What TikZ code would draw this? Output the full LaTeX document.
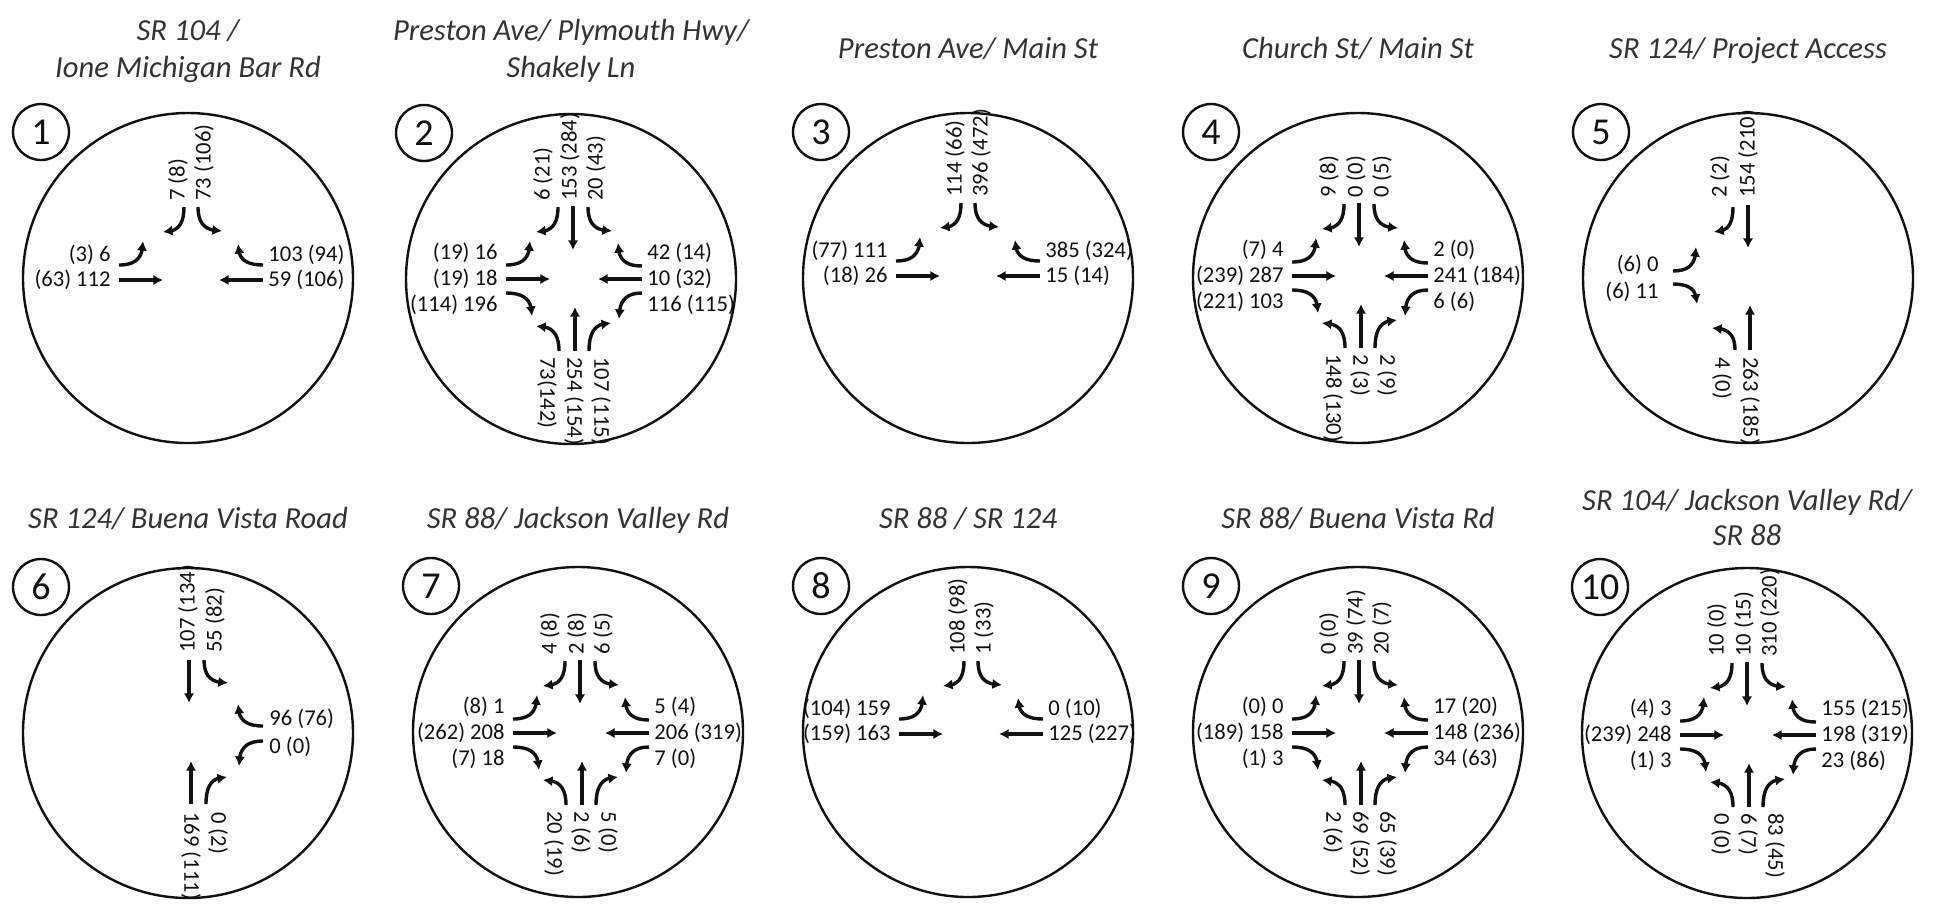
\documentclass[tikz,border=0pt]{standalone}
\usepackage{fontspec}
\setmainfont{Carlito}
\usetikzlibrary{arrows.meta,bending}
\definecolor{ink}{HTML}{111111}
\definecolor{ttlgray}{HTML}{333333}
\tikzset{
  mv/.style={draw=ink,line width=1.7pt,-{Latex[length=4.8pt,width=5.2pt]}},
  lab/.style={inner sep=0pt,text=ink,font=\fontsize{11.3}{13}\selectfont},
  ttl/.style={inner sep=0pt,text=ttlgray,font=\fontsize{15.3}{18}\selectfont\itshape,anchor=base},
  ringline/.style={draw=ink,line width=1.2pt},
  numtxt/.style={inner sep=0pt,text=ink,font=\fontsize{19}{22}\selectfont},
}
\newcommand\vturn[4]{\draw[mv] (#1,#2) .. controls ({#1},{#2+0.8*(#4-(#2))}) and ({#1+0.4*(#3-(#1))},{#4}) .. (#3,#4);}
\newcommand\hturn[4]{\draw[mv] (#1,#2) .. controls ({#1+0.8*(#3-(#1))},{#2}) and ({#3},{#2+0.4*(#4-(#2))}) .. (#3,#4);}
\newcommand\mvline[4]{\draw[mv] (#1,#2) -- (#3,#4);}
\newcommand\sblab[3]{\node[lab,rotate=90,anchor=west] at (#1,#2) {#3};}
\newcommand\nblab[3]{\node[lab,rotate=-90,anchor=west] at (#1,#2) {#3};}
\newcommand\eblab[3]{\node[lab,anchor=east] at (#1,#2) {#3};}
\newcommand\wblab[3]{\node[lab,anchor=west] at (#1,#2) {#3};}
\newcommand\ring[3]{%
  \draw[ringline] (#1,#2) circle[radius=82.5pt];
  \draw[ringline] ({#1-147},{#2-146}) circle[radius=14pt];
  \node[numtxt] at ({#1-147},{#2-146}) {#3};}
% four-leg template
\newcommand\fourarrows{%
  \mvline{-1}{-73}{-1}{-29}
  \mvline{1}{72}{1}{28}
  \mvline{-68}{0}{-24}{0}
  \mvline{68}{0}{24}{0}
  \vturn{-16}{-72}{-38}{-47}
  \vturn{14}{-72}{38}{-48}
  \vturn{-15}{72}{-38}{47}
  \vturn{15}{72}{37}{44}
  \hturn{-68}{-14}{-44}{-38}
  \hturn{-68}{14}{-42}{37}
  \hturn{68}{-13}{44}{-36}
  \hturn{68}{14}{45}{40}}
\newcommand\sblabs[3]{\sblab{-31}{-78}{#1}\sblab{-4}{-78}{#2}\sblab{22}{-78}{#3}}
\newcommand\nblabs[3]{\nblab{-27}{78}{#1}\nblab{0}{78}{#2}\nblab{27}{78}{#3}}
\newcommand\eblabs[3]{\eblab{-76}{-26}{#1}\eblab{-76}{0}{#2}\eblab{-76}{26}{#3}}
\newcommand\wblabs[3]{\wblab{73}{-26}{#1}\wblab{73}{0}{#2}\wblab{73}{26}{#3}}
% T template (SB turns, EB left+thru, WB left+thru)
\newcommand\tarrows{%
  \mvline{-72}{0}{-28}{0}
  \mvline{72}{0}{28}{0}
  \hturn{-72}{-15}{-48}{-39}
  \hturn{72}{-15}{47}{-36}
  \vturn{-7}{-73}{-28}{-48}
  \vturn{7}{-73}{31}{-49}}
\newcommand\tlabs[6]{%
  \sblab{-13}{-79}{#1}\sblab{13}{-79}{#2}
  \eblab{-80}{-25}{#3}\eblab{-80}{0}{#4}
  \wblab{77}{-25}{#5}\wblab{77}{0}{#6}}
\begin{document}
\begin{tikzpicture}[x=0.5pt,y=-0.5pt]
\useasboundingbox (0,0) rectangle (1933,907);
% titles
\node[ttl] (t1a) at (188,40) {SR 104 /};
\node[ttl] (t1b) at (188,77) {Ione Michigan Bar Rd};
\node[ttl] (t2a) at (571,40) {Preston Ave/ Plymouth Hwy/};
\node[ttl] (t2b) at (571,77) {Shakely Ln};
\node[ttl] (t3) at (968,58) {Preston Ave/ Main St};
\node[ttl] (t4) at (1358,58) {Church St/ Main St};
\node[ttl] (t5) at (1748,58) {SR 124/ Project Access};
\node[ttl] (t6) at (188,528) {SR 124/ Buena Vista Road};
\node[ttl] (t7) at (578,528) {SR 88/ Jackson Valley Rd};
\node[ttl] (t8) at (968,528) {SR 88 / SR 124};
\node[ttl] (t9) at (1358,528) {SR 88/ Buena Vista Rd};
\node[ttl] (t10a) at (1747,510) {SR 104/ Jackson Valley Rd/};
\node[ttl] (t10b) at (1747,545) {SR 88};
% rings
\ring{188}{278}{1}
\ring{571}{279}{2}
\ring{968}{278}{3}
\ring{1358}{278}{4}
\ring{1748}{278}{5}
\ring{188}{733}{6}
\ring{578}{732}{7}
\ring{968}{732}{8}
\ring{1358}{732}{9}
\ring{1747}{733}{10}
% 1
\begin{scope}[shift={(191,280)}]
\tarrows
\tlabs{7 (8)}{73 (106)}{(3) 6}{(63) 112}{103 (94)}{59 (106)}
\end{scope}
% 2
\begin{scope}[shift={(574,279)}]
\fourarrows
\sblabs{6 (21)}{153 (284)}{20 (43)}
\nblabs{73(142)}{254 (154)}{107 (115)}
\eblabs{(19) 16}{(19) 18}{(114) 196}
\wblabs{42 (14)}{10 (32)}{116 (115)}
\end{scope}
% 3
\begin{scope}[shift={(968,276)}]
\tarrows
\tlabs{114 (66)}{396 (472)}{(77) 111}{(18) 26}{385 (324)}{15 (14)}
\end{scope}
% 4
\begin{scope}[shift={(1360,276)}]
\fourarrows
\sblabs{9 (8)}{0 (0)}{0 (5)}
\nblabs{148 (130)}{2 (3)}{2 (9)}
\eblabs{(7) 4}{(239) 287}{(221) 103}
\wblabs{2 (0)}{241 (184)}{6 (6)}
\end{scope}
% 5
\begin{scope}[shift={(1749,277)}]
\vturn{-16}{-70}{-35}{-45}
\mvline{-1}{-72}{-1}{-29}
\hturn{-76}{-6}{-53}{-30}
\hturn{-76}{7}{-52}{27}
\vturn{-14}{73}{-37}{51}
\mvline{1}{73}{1}{28}
\sblab{-29}{-79}{2 (2)}\sblab{-1}{-79}{154 (210)}
\nblab{-27}{80}{4 (0)}\nblab{1}{80}{263 (185)}
\eblab{-90}{-12}{(6) 0}\eblab{-90}{15}{(6) 11}
\end{scope}
% 6
\begin{scope}[shift={(190,732)}]
\mvline{-1}{-72}{-1}{-29}
\vturn{14}{-72}{38}{-49}
\hturn{73}{-6}{48}{-28}
\hturn{73}{9}{49}{34}
\mvline{1}{72}{1}{29}
\vturn{16}{72}{37}{45}
\sblab{-2}{-79}{107 (134)}\sblab{25}{-79}{55 (82)}
\wblab{79}{-13}{96 (76)}\wblab{79}{15}{0 (0)}
\nblab{1}{80}{169 (111)}\nblab{28}{80}{0 (2)}
\end{scope}
% 7
\begin{scope}[shift={(581,733)}]
\fourarrows
\sblabs{4 (8)}{2 (8)}{6 (5)}
\nblabs{20 (19)}{2 (6)}{5 (0)}
\eblabs{(8) 1}{(262) 208}{(7) 18}
\wblabs{5 (4)}{206 (319)}{7 (0)}
\end{scope}
% 8
\begin{scope}[shift={(971,734)}]
\tarrows
\tlabs{108 (98)}{1 (33)}{(104) 159}{(159) 163}{0 (10)}{125 (227)}
\end{scope}
% 9
\begin{scope}[shift={(1360,733)}]
\fourarrows
\sblabs{0 (0)}{39 (74)}{20 (7)}
\nblabs{2 (6)}{69 (52)}{65 (39)}
\eblabs{(0) 0}{(189) 158}{(1) 3}
\wblabs{17 (20)}{148 (236)}{34 (63)}
\end{scope}
% 10
\begin{scope}[shift={(1748,735)}]
\fourarrows
\sblabs{10 (0)}{10 (15)}{310 (220)}
\nblabs{0 (0)}{6 (7)}{83 (45)}
\eblabs{(4) 3}{(239) 248}{(1) 3}
\wblabs{155 (215)}{198 (319)}{23 (86)}
\end{scope}
\end{tikzpicture}
\end{document}
